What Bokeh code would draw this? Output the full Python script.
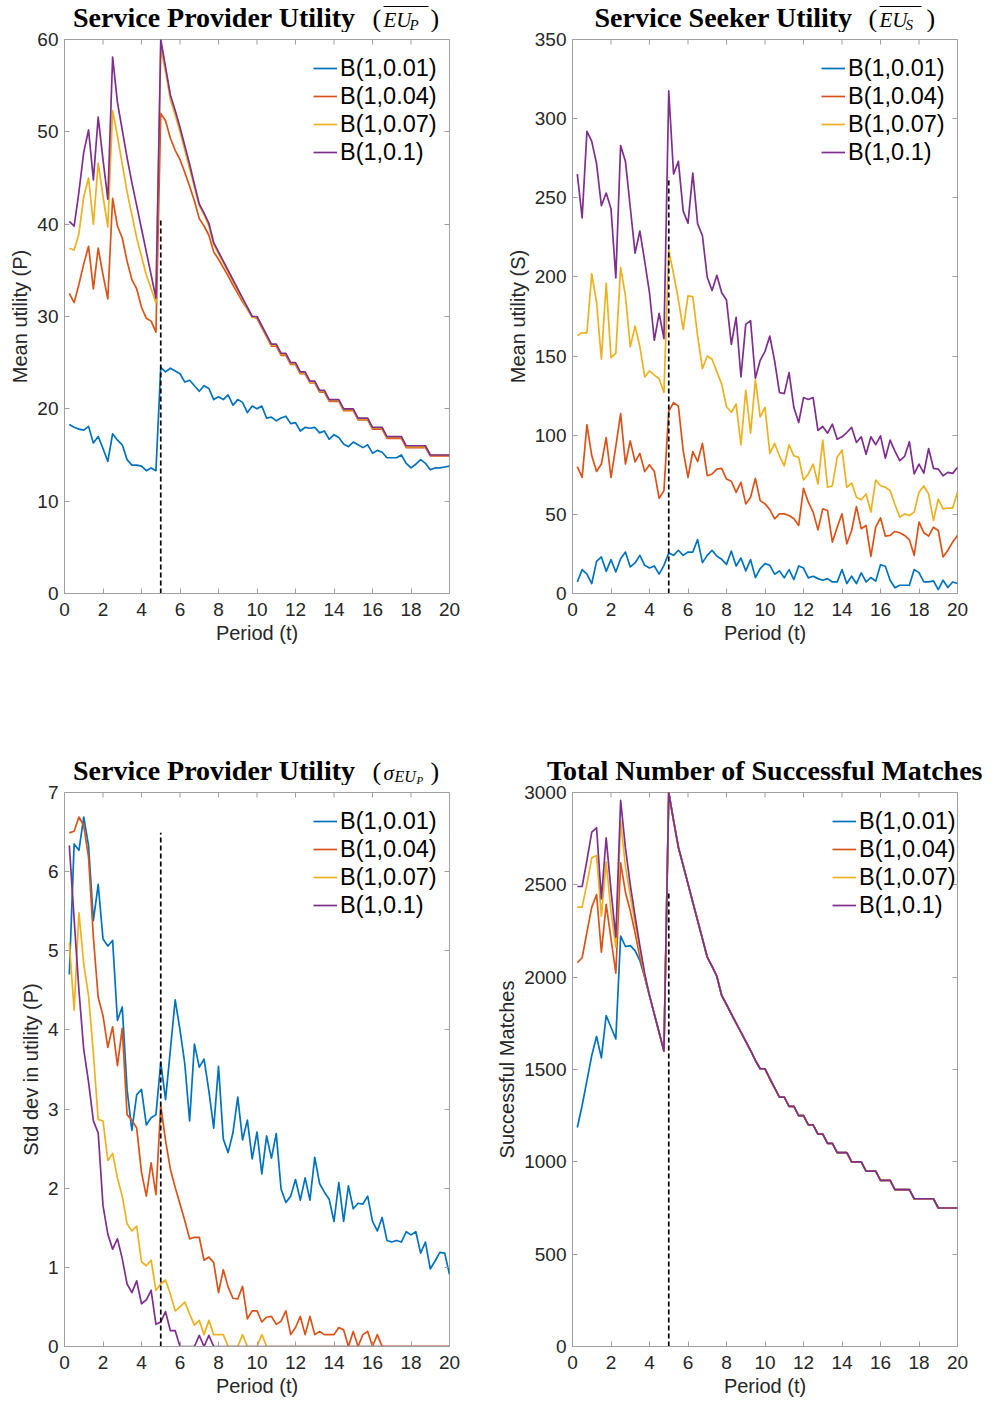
from bokeh.plotting import figure
from bokeh.models import Range1d, FixedTicker, LinearAxis, Legend, LegendItem
from bokeh.core.properties import value
from bokeh.layouts import column, row
from bokeh.embed import file_html
from bokeh.resources import INLINE

# ---------------- data ----------------
T = [0.25, 0.5, 0.75, 1.0, 1.25, 1.5, 1.75, 2.0, 2.25, 2.5, 2.75, 3.0, 3.25, 3.5, 3.75, 4.0, 4.25, 4.5, 4.75, 5.0,
     5.25, 5.5, 5.75, 6.0, 6.25, 6.5, 6.75, 7.0, 7.25, 7.5, 7.75, 8.0, 8.25, 8.5, 8.75, 9.0, 9.25, 9.5, 9.75, 10.0,
     10.25, 10.5, 10.75, 11.0, 11.25, 11.5, 11.75, 12.0, 12.25, 12.5, 12.75, 13.0, 13.25, 13.5, 13.75, 14.0, 14.25, 14.5, 14.75, 15.0,
     15.25, 15.5, 15.75, 16.0, 16.25, 16.5, 16.75, 17.0, 17.25, 17.5, 17.75, 18.0, 18.25, 18.5, 18.75, 19.0, 19.25, 19.5, 19.75, 20.0]

SERIES = ["B(1,0.01)", "B(1,0.04)", "B(1,0.07)", "B(1,0.1)"]
COLORS = ["#0072BD", "#D95319", "#EDB120", "#7E2F8E"]

# Service provider mean utility
EUP_001 = [18.3, 18.0, 17.8, 17.7, 18.1, 16.3, 17.0, 15.7, 14.3, 17.3, 16.6, 16.1, 14.5, 13.9, 13.9, 13.8, 13.3, 13.6, 13.3, 24.5,
           24.0, 24.4, 24.1, 23.8, 22.9, 23.1, 22.5, 21.9, 22.5, 22.2, 21.0, 21.3, 21.0, 21.5, 20.4, 21.0, 20.7, 19.6, 20.3, 20.0,
           20.3, 19.0, 19.1, 18.7, 19.0, 19.2, 18.4, 18.5, 17.6, 18.0, 17.9, 18.0, 17.4, 17.6, 16.7, 17.2, 16.9, 16.2, 15.9, 16.4,
           16.1, 15.8, 16.1, 15.2, 15.5, 15.3, 14.7, 14.7, 14.7, 15.0, 14.1, 13.6, 14.0, 14.5, 14.1, 13.4, 13.6, 13.6, 13.7, 13.8]
EUP_004 = [32.5, 31.5, 33.5, 35.7, 37.6, 33.0, 37.4, 34.5, 31.9, 42.8, 39.8, 38.5, 36.0, 34.0, 33.0, 31.0, 29.8, 29.5, 28.3, 52.0,
           51.2, 49.3, 48.0, 47.0, 45.6, 44.1, 42.5, 40.6, 39.8, 38.8, 37.0, 36.2, 35.3, 34.4, 33.4, 32.5, 31.6, 30.8, 30.0, 29.8,
           28.8, 27.8, 26.8, 26.8, 25.8, 25.8, 24.8, 24.8, 23.8, 23.8, 22.8, 22.8, 21.8, 21.8, 20.8, 20.8, 20.8, 19.8, 19.8, 19.8,
           18.8, 18.8, 18.8, 17.8, 17.8, 17.8, 16.8, 16.8, 16.8, 16.8, 15.8, 15.8, 15.8, 15.8, 15.8, 14.9, 14.9, 14.9, 14.9, 14.9]
EUP_007 = [37.4, 37.2, 39.0, 43.0, 45.0, 40.0, 46.6, 43.0, 39.7, 52.3, 49.5, 46.5, 43.5, 41.0, 38.5, 36.5, 34.5, 33.0, 31.5, 59.0,
           56.5, 53.5, 51.8, 50.0, 48.0, 46.0, 44.0, 42.0, 41.0, 39.8, 37.8, 36.8, 35.8, 34.8, 33.8, 32.8, 31.8, 30.8, 29.9, 29.9,
           28.9, 27.9, 26.9, 26.9, 25.9, 25.9, 24.9, 24.9, 23.9, 23.9, 22.9, 22.9, 21.9, 21.9, 20.9, 20.9, 20.9, 19.9, 19.9, 19.9,
           18.9, 18.9, 18.9, 17.9, 17.9, 17.9, 16.9, 16.9, 16.9, 16.9, 15.9, 15.9, 15.9, 15.9, 15.9, 15.0, 15.0, 15.0, 15.0, 15.0]
EUP_010 = [40.3, 39.8, 43.5, 47.8, 50.2, 44.8, 51.6, 47.0, 42.7, 58.1, 53.2, 50.2, 47.2, 44.5, 42.0, 39.5, 37.0, 34.5, 32.0, 60.0,
           57.0, 54.0, 52.3, 50.5, 48.5, 46.5, 44.3, 42.2, 41.2, 40.1, 38.0, 37.0, 36.0, 35.0, 34.0, 33.0, 32.0, 31.0, 30.0, 30.0,
           29.0, 28.0, 27.0, 27.0, 26.0, 26.0, 25.0, 25.0, 24.0, 24.0, 23.0, 23.0, 22.0, 22.0, 21.0, 21.0, 21.0, 20.0, 20.0, 20.0,
           19.0, 19.0, 19.0, 18.0, 18.0, 18.0, 17.0, 17.0, 17.0, 17.0, 16.0, 16.0, 16.0, 16.0, 16.0, 15.0, 15.0, 15.0, 15.0, 15.0]

# Service seeker mean utility
EUS_001 = [7.3, 15.1, 12.2, 6.3, 20.3, 23.1, 14.0, 21.4, 13.6, 22.0, 26.2, 16.8, 19.3, 24.1, 17.8, 16.1, 17.4, 12.2, 17.8, 25.6,
           24.1, 27.3, 24.1, 26.2, 26.2, 34.0, 19.5, 24.1, 27.3, 23.5, 21.6, 18.4, 26.8, 17.4, 22.4, 14.3, 21.4, 10.1, 15.7, 18.9,
           17.8, 12.2, 14.3, 9.9, 15.1, 8.8, 17.4, 16.1, 9.9, 10.9, 9.4, 8.4, 9.4, 7.3, 7.3, 15.1, 6.3, 10.9, 6.3, 13.0,
           7.3, 10.1, 7.8, 18.2, 17.2, 8.4, 3.6, 5.2, 5.2, 5.2, 15.1, 13.2, 7.3, 7.3, 8.0, 2.5, 8.4, 3.8, 7.3, 6.3]
EUS_004 = [80.1, 73.4, 106.5, 87.0, 77.1, 81.8, 98.5, 73.4, 92.9, 113.6, 81.8, 96.4, 83.2, 88.5, 77.0, 81.3, 77.1, 60.2, 65.0, 115.3,
           120.5, 118.4, 90.1, 73.4, 89.7, 83.4, 94.8, 74.4, 75.5, 78.6, 79.0, 72.3, 70.9, 63.9, 70.2, 56.6, 60.8, 72.7, 58.7, 56.6,
           53.0, 47.2, 50.3, 50.3, 49.3, 47.2, 43.0, 66.5, 57.7, 51.4, 40.2, 53.5, 52.4, 32.5, 41.9, 50.3, 31.4, 39.8, 54.9, 40.9,
           43.0, 23.5, 41.9, 47.8, 36.3, 36.7, 39.2, 38.4, 36.7, 34.0, 24.1, 45.1, 38.4, 36.3, 41.9, 39.8, 23.1, 27.3, 32.5, 36.7]
EUS_007 = [163.0, 164.7, 164.7, 201.9, 184.0, 148.0, 196.0, 149.0, 151.7, 206.0, 188.0, 155.9, 168.9, 156.0, 136.8, 140.6, 138.0, 135.7, 127.0, 216.7,
           202.0, 185.7, 166.8, 188.0, 187.6, 162.6, 142.0, 150.0, 148.0, 140.0, 132.3, 118.0, 114.5, 119.7, 93.9, 128.4, 101.3, 134.9, 111.6, 117.5,
           88.5, 94.8, 87.0, 80.7, 93.9, 87.0, 86.0, 71.7, 75.5, 81.8, 69.2, 96.9, 67.1, 68.1, 86.0, 90.7, 67.1, 69.8, 60.8, 59.2,
           62.9, 51.4, 71.7, 68.1, 67.1, 65.0, 56.2, 48.2, 50.3, 49.3, 51.4, 64.0, 67.9, 62.9, 46.1, 59.7, 53.5, 54.0, 54.0, 64.0]
EUS_010 = [265.0, 237.3, 292.0, 285.6, 271.5, 245.0, 253.0, 243.0, 199.4, 283.0, 273.0, 244.0, 215.0, 229.0, 210.0, 190.0, 160.0, 177.0, 161.0, 317.5,
           265.0, 273.0, 241.6, 234.0, 265.6, 233.5, 226.0, 199.8, 191.4, 201.0, 190.0, 185.4, 157.3, 174.5, 136.8, 170.0, 172.4, 136.0, 147.3, 153.0,
           162.6, 146.9, 127.0, 126.3, 139.5, 117.5, 108.0, 123.8, 122.6, 123.8, 103.0, 105.5, 101.3, 107.0, 97.5, 99.0, 101.7, 105.0, 95.4, 99.0,
           88.0, 99.0, 94.0, 99.6, 85.5, 96.9, 90.0, 83.9, 86.6, 95.9, 75.5, 81.8, 76.0, 91.6, 79.1, 78.6, 74.4, 76.5, 75.9, 79.7]

# Service provider std dev of utility
SDP_001 = [4.70, 6.35, 6.27, 6.69, 6.33, 5.38, 5.84, 5.15, 5.06, 5.13, 4.12, 4.29, 3.25, 2.73, 3.18, 3.25, 2.80, 2.89, 2.93, 3.59,
           3.12, 3.75, 4.38, 4.00, 3.57, 2.85, 3.82, 3.53, 3.63, 3.23, 2.76, 3.54, 2.62, 2.45, 2.70, 3.15, 2.61, 2.86, 2.37, 2.71,
           2.18, 2.66, 2.38, 2.69, 1.99, 1.82, 1.90, 2.11, 1.85, 2.13, 1.85, 2.39, 2.06, 1.95, 1.86, 1.58, 2.07, 1.58, 2.03, 1.74,
           1.81, 1.80, 1.90, 1.58, 1.46, 1.63, 1.34, 1.32, 1.34, 1.32, 1.45, 1.41, 1.45, 1.18, 1.32, 0.98, 1.08, 1.19, 1.18, 0.91]
SDP_004 = [6.49, 6.51, 6.69, 6.58, 6.18, 5.17, 4.41, 4.18, 3.78, 4.04, 3.55, 4.02, 2.93, 2.86, 2.76, 2.20, 1.90, 2.32, 1.92, 3.04,
           2.60, 2.24, 2.01, 1.80, 1.59, 1.36, 1.38, 1.38, 1.09, 1.13, 1.06, 0.68, 0.97, 0.75, 0.61, 0.60, 0.76, 0.35, 0.45, 0.45,
           0.31, 0.37, 0.38, 0.28, 0.32, 0.45, 0.15, 0.24, 0.38, 0.15, 0.38, 0.15, 0.19, 0.15, 0.15, 0.15, 0.24, 0.21, 0.00, 0.19,
           0.00, 0.15, 0.19, 0.00, 0.15, 0.00, 0.00, 0.00, 0.00, 0.00, 0.00, 0.00, 0.00, 0.00, 0.00, 0.00, 0.00, 0.00, 0.00, 0.00]
SDP_007 = [5.10, 4.25, 5.48, 4.83, 4.43, 3.70, 2.87, 2.85, 2.35, 2.44, 2.13, 1.90, 1.55, 1.46, 1.52, 1.07, 1.02, 1.09, 0.71, 0.79,
           0.84, 0.66, 0.45, 0.50, 0.56, 0.41, 0.27, 0.33, 0.15, 0.33, 0.15, 0.15, 0.15, 0.00, 0.00, 0.00, 0.15, 0.00, 0.00, 0.00,
           0.15, 0.00, 0.00, 0.00, 0.00, 0.00, 0.00, 0.00, 0.00, 0.00, 0.00, 0.00, 0.00, 0.00, 0.00, 0.00, 0.00, 0.00, 0.00, 0.00,
           0.00, 0.00, 0.00, 0.00, 0.00, 0.00, 0.00, 0.00, 0.00, 0.00, 0.00, 0.00, 0.00, 0.00, 0.00, 0.00, 0.00, 0.00, 0.00, 0.00]
SDP_010 = [6.33, 5.40, 4.50, 3.75, 3.34, 2.85, 2.70, 1.78, 1.42, 1.23, 1.36, 1.11, 0.79, 0.68, 0.83, 0.54, 0.59, 0.71, 0.28, 0.31,
           0.44, 0.20, 0.20, 0.00, 0.00, 0.00, 0.00, 0.14, 0.00, 0.14, 0.00, 0.00, 0.00, 0.00, 0.00, 0.00, 0.00, 0.00, 0.00, 0.00,
           0.00, 0.00, 0.00, 0.00, 0.00, 0.00, 0.00, 0.00, 0.00, 0.00, 0.00, 0.00, 0.00, 0.00, 0.00, 0.00, 0.00, 0.00, 0.00, 0.00,
           0.00, 0.00, 0.00, 0.00, 0.00, 0.00, 0.00, 0.00, 0.00, 0.00, 0.00, 0.00, 0.00, 0.00, 0.00, 0.00, 0.00, 0.00, 0.00, 0.00]

# Total number of successful matches (t = 0.25 .. 4.75 per series, identical from t = 5 on)
MATCH_001_EARLY = [1186, 1305, 1440, 1576, 1679, 1563, 1792, 1729, 1666, 2222, 2166, 2171, 2144, 2090, 2000, 1900, 1800, 1700, 1600]
MATCH_004_EARLY = [2078, 2105, 2244, 2379, 2448, 2135, 2394, 2208, 2022, 2619, 2460, 2360, 2240, 2110, 2000, 1900, 1800, 1700, 1600]
MATCH_007_EARLY = [2379, 2379, 2505, 2646, 2659, 2330, 2623, 2356, 2162, 2845, 2600, 2440, 2290, 2150, 2010, 1900, 1800, 1700, 1600]
MATCH_010_EARLY = [2491, 2491, 2632, 2785, 2809, 2424, 2755, 2469, 2217, 2957, 2700, 2500, 2330, 2170, 2020, 1900, 1800, 1700, 1600]
MATCH_LATE = [3000,
              2848, 2704, 2605, 2505, 2406, 2307, 2208, 2108, 2058, 2004, 1901, 1852, 1801, 1751, 1702, 1652, 1603, 1549, 1504, 1504,
              1450, 1400, 1350, 1350, 1300, 1300, 1250, 1250, 1200, 1200, 1150, 1150, 1100, 1100, 1050, 1050, 1050, 1000, 1000, 1000,
              950, 950, 950, 900, 900, 900, 850, 850, 850, 850, 800, 800, 800, 800, 800, 750, 750, 750, 750, 750]
MATCH_001 = MATCH_001_EARLY + MATCH_LATE
MATCH_004 = MATCH_004_EARLY + MATCH_LATE
MATCH_007 = MATCH_007_EARLY + MATCH_LATE
MATCH_010 = MATCH_010_EARLY + MATCH_LATE

CHANGE_T = 5.0
CHANGE_TOP = [40.4, 263.0, 6.49, 2470.0]

X_TICKS = [0, 2, 4, 6, 8, 10, 12, 14, 16, 18, 20]
Y_TICKS_EUP = [0, 10, 20, 30, 40, 50, 60]
Y_TICKS_EUS = [0, 50, 100, 150, 200, 250, 300, 350]
Y_TICKS_SDP = [0, 1, 2, 3, 4, 5, 6, 7]
Y_TICKS_MATCH = [0, 500, 1000, 1500, 2000, 2500, 3000]

for s in [EUP_001, EUP_004, EUP_007, EUP_010, EUS_001, EUS_004, EUS_007, EUS_010,
          SDP_001, SDP_004, SDP_007, SDP_010, MATCH_001, MATCH_004, MATCH_007, MATCH_010]:
    assert len(s) == len(T), len(s)

# ---------------- styling ----------------
AX_COLOR = "#a0a0a0"
TXT_COLOR = "#262626"
SANS = "Liberation Sans"
SERIF = "Liberation Serif"


def make_panel(w, h, bl, br, bt, bb, yr, yticks, ylabel, series, top, legend_x):
    p = figure(width=w, height=h, x_range=Range1d(0, 20), y_range=Range1d(*yr),
               output_backend="svg", toolbar_location=None, title=None,
               min_border_left=bl, min_border_right=br,
               min_border_top=bt, min_border_bottom=bb)
    p.background_fill_color = "white"
    p.border_fill_color = "white"
    p.outline_line_color = AX_COLOR
    p.outline_line_width = 1
    p.xgrid.visible = False
    p.ygrid.visible = False

    p.xaxis.ticker = FixedTicker(ticks=X_TICKS)
    p.yaxis.ticker = FixedTicker(ticks=yticks)
    for ax in (p.xaxis[0], p.yaxis[0]):
        ax.axis_line_color = AX_COLOR
        ax.major_tick_line_color = AX_COLOR
        ax.major_tick_in = 5
        ax.major_tick_out = 0
        ax.minor_tick_line_color = None
        ax.major_label_text_font = SANS
        ax.major_label_text_font_size = "19px"
        ax.major_label_text_color = TXT_COLOR
        ax.axis_label_text_font = SANS
        ax.axis_label_text_font_size = "20px"
        ax.axis_label_text_font_style = "normal"
        ax.axis_label_text_color = TXT_COLOR
    p.xaxis.axis_label = "Period (t)"
    p.yaxis.axis_label = ylabel
    p.xaxis.major_label_standoff = 9
    p.yaxis.major_label_standoff = 6
    p.xaxis.axis_label_standoff = 3
    p.yaxis.axis_label_standoff = 3

    # mirrored inward ticks on the right side (box on)
    ax = LinearAxis(ticker=FixedTicker(ticks=yticks))
    ax.axis_line_color = None
    ax.major_tick_line_color = AX_COLOR
    ax.major_tick_in = 5
    ax.major_tick_out = 0
    ax.minor_tick_line_color = None
    ax.major_label_text_font_size = "0px"
    ax.major_label_text_alpha = 0
    ax.major_label_standoff = 0
    p.add_layout(ax, "right")
    # mirrored inward ticks on the top side: short vertical dashes clipped by the frame
    p.scatter(x=X_TICKS, y=[yr[1]] * len(X_TICKS), marker="dash", angle=1.5707963,
              size=10, line_color=AX_COLOR, line_width=1)

    items = []
    for name, vals, col in zip(SERIES, series, COLORS):
        r = p.line(T, vals, line_color=col, line_width=1.7, line_join="round")
        items.append(LegendItem(label=name, renderers=[r]))

    p.segment(x0=[CHANGE_T], y0=[yr[0]], x1=[CHANGE_T], y1=[top],
              line_color="black", line_width=1.7, line_dash="5 3")

    fh = h - bt - bb
    legend = Legend(items=items, location=(legend_x, fh - 15 - 4 * 28),
                    border_line_color=None, background_fill_alpha=0,
                    glyph_width=24, glyph_height=28, label_height=28,
                    label_standoff=3, padding=0, spacing=0, margin=0,
                    label_text_font=SANS, label_text_font_size="23.5px",
                    label_text_color="black")
    p.add_layout(legend)
    return p


def strip(w, h):
    """blank canvas that holds a LaTeX-like title; data units == pixels, y downwards"""
    s = figure(width=w, height=h, x_range=Range1d(0, w), y_range=Range1d(h, 0),
               output_backend="svg", toolbar_location=None, title=None,
               x_axis_type=None, y_axis_type=None,
               min_border_left=0, min_border_right=0, min_border_top=0, min_border_bottom=0)
    s.outline_line_color = None
    s.background_fill_color = "white"
    s.border_fill_color = "white"
    return s


BASELINE_SHIFT = 0.30   # the text glyph lands ~0.3 em below the requested baseline


def label(s, text, x, baseline, size, style="normal", align="left", font=SERIF):
    s.text(x=[x], y=[baseline - BASELINE_SHIFT * size], text=[text], text_font=value(font),
           text_font_style=style, text_font_size=value(f"{size}px"), text_align=align,
           text_baseline="alphabetic", text_color="black")


def overline(s, x0, x1, y):
    s.segment(x0=[x0], y0=[y], x1=[x1], y1=[y], line_color="black", line_width=1.2)


# top row: title strip 32 px, panel 668 px ; bottom row: strip 85 px, panel 618 px
s1 = strip(496, 32)
s2 = strip(496, 32)
s3 = strip(490, 85)
s4 = strip(502, 85)

p1 = make_panel(496, 668, 64, 47, 7, 107, (0, 60), Y_TICKS_EUP, "Mean utility (P)",
                [EUP_001, EUP_004, EUP_007, EUP_010], CHANGE_TOP[0], 249)
p2 = make_panel(496, 668, 76, 35, 7, 107, (0, 350), Y_TICKS_EUS, "Mean utility (S)",
                [EUS_001, EUS_004, EUS_007, EUS_010], CHANGE_TOP[1], 249)
p3 = make_panel(490, 618, 64, 41, 7, 57, (0, 7), Y_TICKS_SDP, "Std dev in utility (P)",
                [SDP_001, SDP_004, SDP_007, SDP_010], CHANGE_TOP[2], 249)
p4 = make_panel(502, 618, 82, 35, 7, 57, (0, 3000), Y_TICKS_MATCH, "Successful Matches",
                [MATCH_001, MATCH_004, MATCH_007, MATCH_010], CHANGE_TOP[3], 260)

# titles (pieces mimic the LaTeX rendering)
label(s1, "Service Provider Utility", 72.5, 25.5, 28, "bold")
label(s1, "(", 372, 25.5, 26)
label(s1, "EU", 383, 25.5, 21, "italic")
label(s1, "P", 409, 28.5, 15, "italic")
label(s1, ")", 430, 25.5, 26)
overline(s1, 383, 428, 6)

label(s2, "Service Seeker Utility", 98, 25.5, 28, "bold")
label(s2, "(", 372, 25.5, 26)
label(s2, "EU", 383, 25.5, 21, "italic")
label(s2, "S", 409, 28.5, 15, "italic")
label(s2, ")", 430, 25.5, 26)
overline(s2, 383, 425, 6)

label(s3, "Service Provider Utility", 72.5, 78.5, 28, "bold")
label(s3, "(", 372, 78.5, 26)
label(s3, "\u03c3", 383, 78.5, 21, "italic")
label(s3, "EU", 394, 81, 16, "italic")
label(s3, "P", 416, 82.5, 11, "italic")
label(s3, ")", 430, 78.5, 26)

label(s4, "Total Number of Successful Matches", 274.5, 78.5, 28, "bold", align="center")

layout = column(row(s1, s2), row(p1, p2), row(s3, s4), row(p3, p4))
open("out.html", "w").write(file_html(layout, INLINE))
